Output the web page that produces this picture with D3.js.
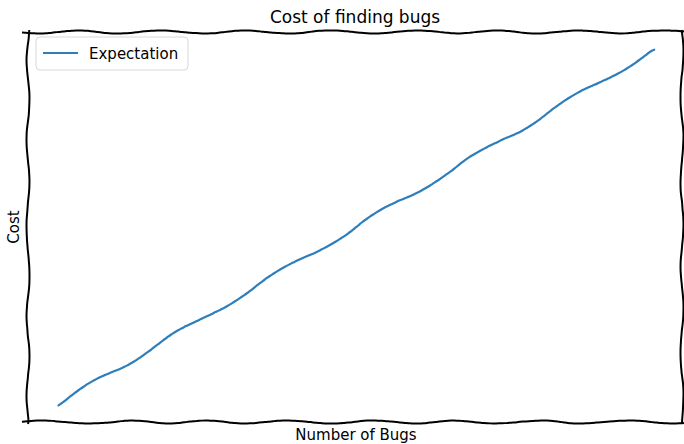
<!DOCTYPE html>
<html lang="en">
<head>
  <meta charset="UTF-8">
  <title>Cost of finding bugs</title>
  <script src="https://d3js.org/d3.v7.min.js"></script>
  <style>
    body { margin: 0; background: #fff; }
    svg { display: block; }
    text { font-family: "DejaVu Sans", sans-serif; fill: #000; }
  </style>
</head>
<body>
<svg width="684" height="444"></svg>
<script>
  // data (straight rising line)
  const bugs = [0, 1, 2, 3, 4, 5, 6, 7, 8, 9, 10];
  const cost = [0, 1, 2, 3, 4, 5, 6, 7, 8, 9, 10];
  const seriesName = "Expectation";

  const margin = {top: 32, right: 0, bottom: 22, left: 28},
        width = 684 - margin.left - margin.right,
        height = 444 - margin.top - margin.bottom;

  const svg = d3.select("svg");
  const g = svg.append("g").attr("transform", `translate(${margin.left},${margin.top})`);

  const x = d3.scaleLinear().domain([-0.5, 10.5]).range([0, width]);
  const y = d3.scaleLinear().domain([-0.5, 10.5]).range([height, 0]);

  // xkcd-like sketch: wobble screen points sideways along the path
  let seed = 7;
  const rnd = () => (seed = (seed * 16807) % 2147483647) / 2147483647;
  function sketch(pts, amp, len) {
    const out = [];
    let phase = rnd() * 6.28;
    for (let i = 0; i < pts.length - 1; i++) {
      const [x0, y0] = pts[i], [x1, y1] = pts[i + 1];
      const d = Math.hypot(x1 - x0, y1 - y0), n = Math.max(1, Math.round(d / 3));
      const nx = -(y1 - y0) / d, ny = (x1 - x0) / d;
      for (let k = 0; k < n; k++) {
        const t = k / n;
        phase += (3 / len) * 6.28 * (0.5 + rnd());
        const o = amp * Math.sin(phase);
        out.push([x0 + (x1 - x0) * t + nx * o, y0 + (y1 - y0) * t + ny * o]);
      }
    }
    out.push(pts[pts.length - 1]);
    return d3.line().curve(d3.curveBasis)(out);
  }

  // spines
  const spine = (pts) => g.append("path").attr("d", sketch(pts, 1.5, 85))
    .attr("fill", "none").attr("stroke", "#000").attr("stroke-width", 2);
  spine([[-6, 0], [width + 4, 0]]);
  spine([[-6, height], [width + 4, height]]);
  spine([[0, -2], [0, height + 2]]);
  spine([[width - 2, -2], [width - 2, height + 2]]);

  g.append("path")
    .attr("fill", "none")
    .attr("stroke", "#2e7ebc")
    .attr("stroke-width", 2.2)
    .attr("stroke-linecap", "round")
    .attr("d", sketch(bugs.map((b, i) => [x(b), y(cost[i])]), 2.2, 110));

  // legend
  const leg = g.append("g").attr("transform", "translate(8,5)");
  leg.append("rect").attr("width", 152).attr("height", 33).attr("rx", 4)
    .attr("fill", "#fff").attr("stroke", "#d8d8d8").attr("stroke-width", 1);
  leg.append("line").attr("x1", 7).attr("x2", 42).attr("y1", 16).attr("y2", 16)
    .attr("stroke", "#2e7ebc").attr("stroke-width", 2.2);
  leg.append("text").attr("x", 53).attr("y", 22).attr("font-size", 15).text(seriesName);

  // labels
  svg.append("text").attr("x", 355).attr("y", 23).attr("text-anchor", "middle")
    .attr("font-size", 17).text("Cost of finding bugs");
  svg.append("text").attr("x", 356).attr("y", 440).attr("text-anchor", "middle")
    .attr("font-size", 15).text("Number of Bugs");
  svg.append("text").attr("transform", "translate(19,227) rotate(-90)")
    .attr("text-anchor", "middle").attr("font-size", 15).text("Cost");
</script>
</body>
</html>
